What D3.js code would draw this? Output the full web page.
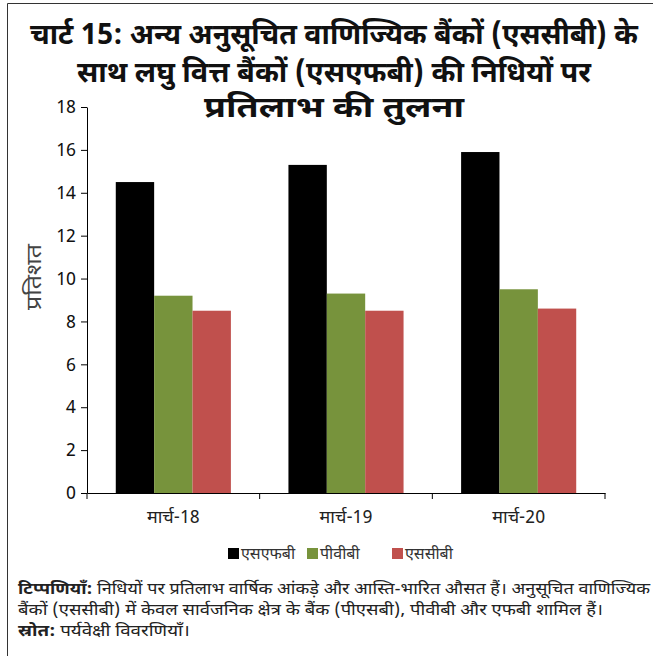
<!DOCTYPE html>
<html>
<head>
<meta charset="utf-8">
<script src="https://cdn.jsdelivr.net/npm/d3@7/dist/d3.min.js"></script>
<style>
  html, body { margin: 0; padding: 0; background: #fff; }
  svg { display: block; }
  text { font-family: "Noto Sans Devanagari", "Noto Sans", "Liberation Sans", sans-serif; }
</style>
</head>
<body>
<svg id="chart" width="653" height="656"></svg>
<script>
// Chart data
const categories = ["मार्च-18", "मार्च-19", "मार्च-20"];
const seriesNames = ["एसएफबी", "पीवीबी", "एससीबी"];
const seriesColors = ["#000000", "#77933C", "#C0504D"];
const sfbValues = [14.5, 15.3, 15.9];
const pvbValues = [9.2, 9.3, 9.5];
const scbValues = [8.5, 8.5, 8.6];
const yTicks = [0, 2, 4, 6, 8, 10, 12, 14, 16, 18];
const titleLines = [
  "चार्ट 15: अन्य अनुसूचित वाणिज्यिक बैंकों (एससीबी) के",
  "साथ लघु वित्त बैंकों (एसएफबी) की निधियों पर",
  "प्रतिलाभ की तुलना"
];
const yLabel = "प्रतिशत";
const noteLabel = "टिप्पणियाँ:";
const noteLine1 = " निधियों पर प्रतिलाभ वार्षिक आंकड़े और आस्ति-भारित औसत हैं। अनुसूचित वाणिज्यिक";
const noteLine2 = "बैंकों (एससीबी) में केवल सार्वजनिक क्षेत्र के बैंक (पीएसबी), पीवीबी और एफबी शामिल हैं।";
const sourceLabel = "स्रोत:";
const sourceText = " पर्यवेक्षी विवरणियाँ।";

const seriesValues = [sfbValues, pvbValues, scbValues];

const svg = d3.select("#chart");

// Outer frame (top and left rules)
svg.append("path")
  .attr("d", "M7.5,656 V3.5 H653")
  .attr("fill", "none")
  .attr("stroke", "#333")
  .attr("stroke-width", 1);

// Title, three centred lines in a condensed bold face
const titleY = [44, 82, 117];
const titleW = [608, 514, 260];
svg.append("g").selectAll("text")
  .data(titleLines)
  .join("text")
  .attr("x", 334)
  .attr("y", (d, i) => titleY[i])
  .attr("text-anchor", "middle")
  .attr("font-size", 29)
  .attr("font-weight", "bold")
  .attr("fill", "#111")
  .attr("textLength", (d, i) => titleW[i])
  .attr("lengthAdjust", "spacingAndGlyphs")
  .text(d => d);

// Plot area
const plot = { left: 87, right: 605, top: 107, bottom: 493 };

const x0 = d3.scaleBand()
  .domain(categories)
  .range([plot.left, plot.right])
  .paddingInner(0)
  .paddingOuter(0);

const x1 = d3.scaleBand()
  .domain(d3.range(seriesNames.length))
  .range([0, x0.bandwidth()])
  .paddingInner(0)
  .paddingOuter(0.75);

const y = d3.scaleLinear()
  .domain([0, 18])
  .range([plot.bottom, plot.top]);

// Bars
const groups = svg.append("g").selectAll("g")
  .data(categories)
  .join("g")
  .attr("transform", d => `translate(${x0(d)},0)`);

groups.selectAll("rect")
  .data((d, ci) => seriesValues.map((vals, si) => ({ si, v: vals[ci] })))
  .join("rect")
  .attr("x", d => x1(d.si))
  .attr("width", x1.bandwidth())
  .attr("y", d => y(d.v))
  .attr("height", d => y(0) - y(d.v))
  .attr("fill", d => seriesColors[d.si]);

// Y axis
const yAxis = svg.append("g")
  .attr("transform", `translate(${plot.left},0)`)
  .call(d3.axisLeft(y).tickValues(yTicks).tickSize(6).tickPadding(5).tickSizeOuter(0));
yAxis.select(".domain").attr("stroke", "#000");
yAxis.selectAll(".tick line").attr("stroke", "#000");
yAxis.selectAll(".tick text")
  .attr("font-family", "'DejaVu Sans', sans-serif")
  .attr("font-size", 18)
  .attr("fill", "#111");

// X axis
const xAxis = svg.append("g")
  .attr("transform", `translate(0,${plot.bottom})`)
  .call(d3.axisBottom(x0).tickSize(0).tickPadding(17));
xAxis.select(".domain").attr("stroke", "#000");
xAxis.selectAll(".tick text")
  .attr("font-family", "'Liberation Sans', 'Noto Sans Devanagari', sans-serif")
  .attr("font-size", 18)
  .attr("fill", "#222");
// Category separators
xAxis.append("g").selectAll("line")
  .data(categories.map(c => x0(c)).concat([plot.right]))
  .join("line")
  .attr("x1", d => d).attr("x2", d => d)
  .attr("y1", 0).attr("y2", 6)
  .attr("stroke", "#000");

// Y axis title
svg.append("text")
  .attr("transform", "translate(41,277) rotate(-90)")
  .attr("text-anchor", "middle")
  .attr("font-size", 21)
  .attr("fill", "#444")
  .attr("textLength", 66)
  .attr("lengthAdjust", "spacingAndGlyphs")
  .text(yLabel);

// Legend
const legendX = [228, 307, 392];
const legend = svg.append("g").selectAll("g")
  .data(seriesNames)
  .join("g")
  .attr("transform", (d, i) => `translate(${legendX[i]},548)`);
legend.append("rect")
  .attr("width", 11).attr("height", 11)
  .attr("fill", (d, i) => seriesColors[i]);
legend.append("text")
  .attr("x", 13).attr("y", 11)
  .attr("font-size", 16)
  .attr("fill", "#333")
  .text(d => d);

// Notes and source
const notes = svg.append("g").attr("font-size", 16).attr("fill", "#222");
const n1 = notes.append("text").attr("x", 18).attr("y", 594)
  .attr("textLength", 632).attr("lengthAdjust", "spacingAndGlyphs");
n1.append("tspan").attr("font-weight", "bold").text(noteLabel);
n1.append("tspan").text(noteLine1);
notes.append("text").attr("x", 18).attr("y", 615)
  .attr("textLength", 585).attr("lengthAdjust", "spacingAndGlyphs")
  .text(noteLine2);
const n3 = notes.append("text").attr("x", 18).attr("y", 636)
  .attr("textLength", 172).attr("lengthAdjust", "spacingAndGlyphs");
n3.append("tspan").attr("font-weight", "bold").text(sourceLabel);
n3.append("tspan").text(sourceText);
</script>
</body>
</html>
